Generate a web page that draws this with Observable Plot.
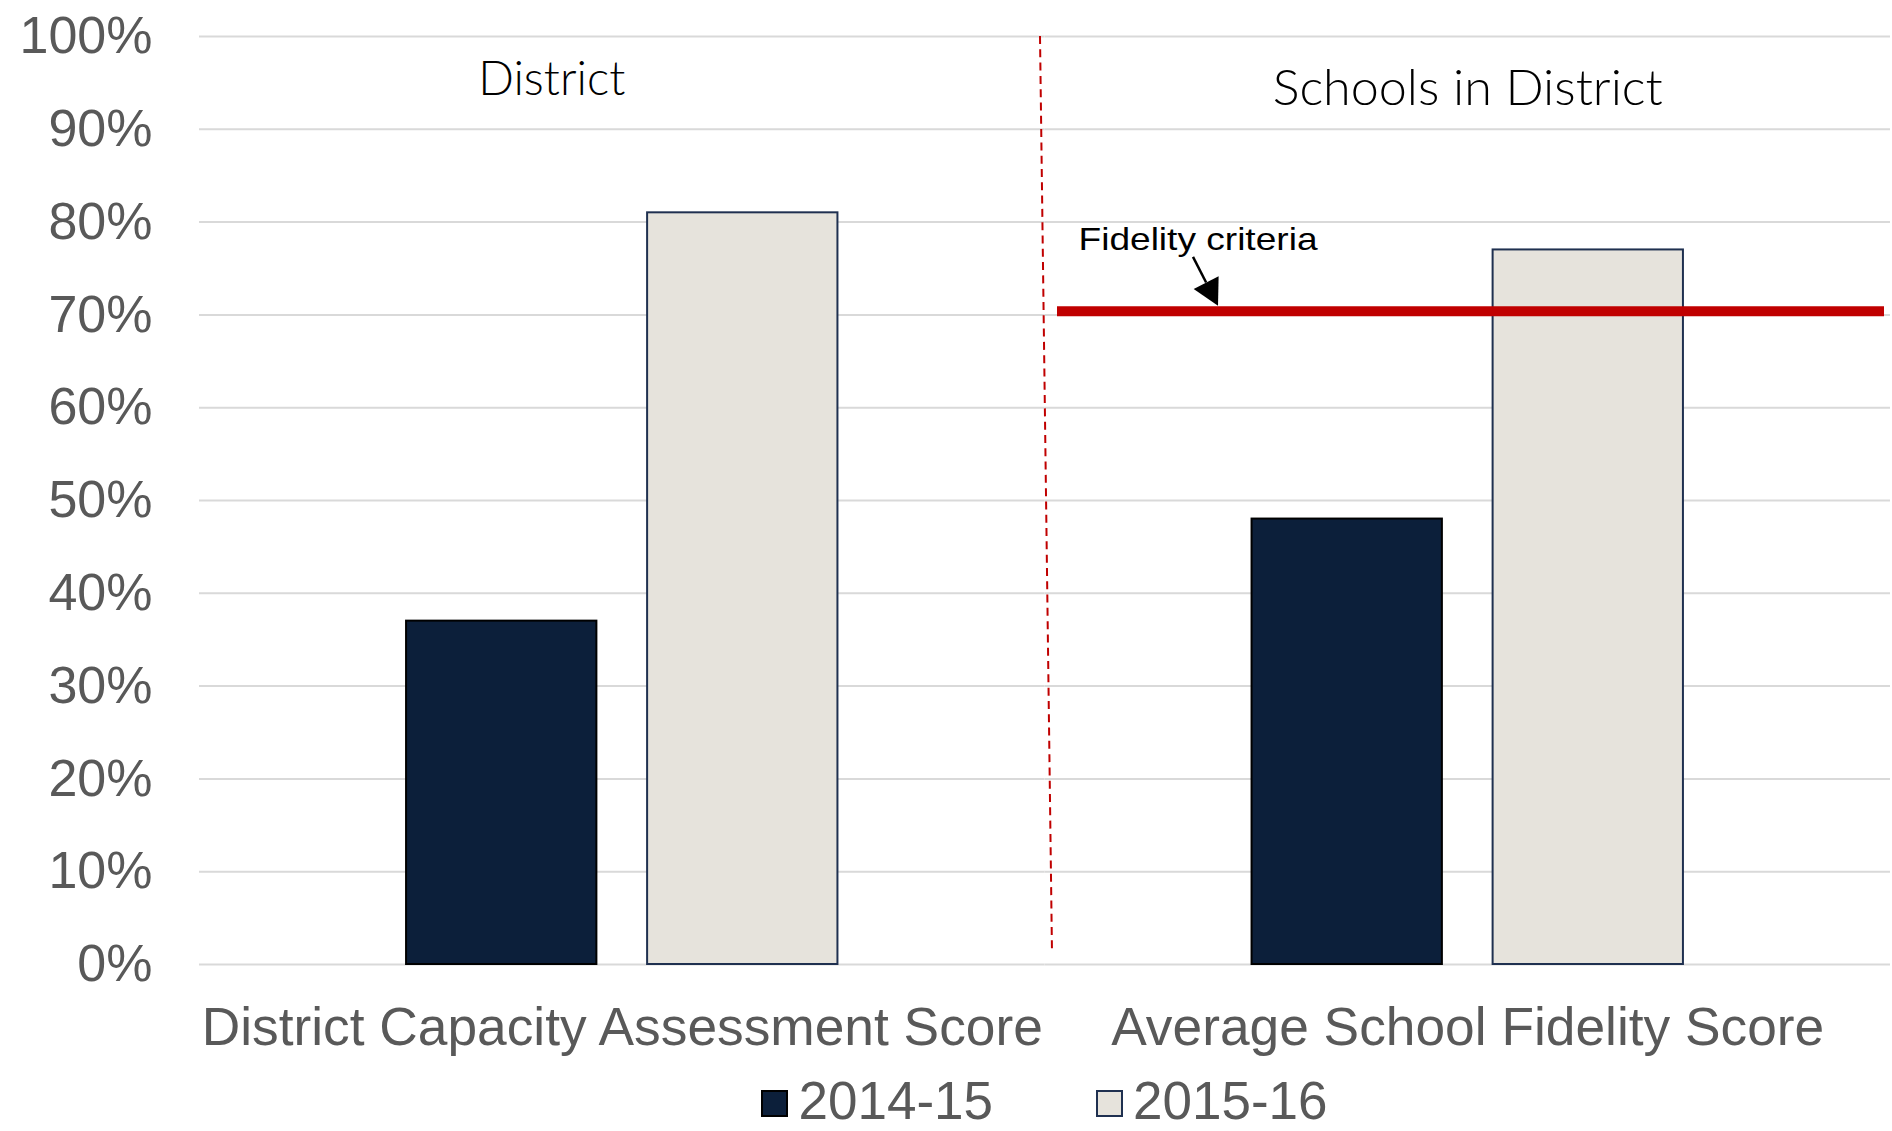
<!DOCTYPE html>
<html>
<head>
<meta charset="utf-8">
<script src="https://cdn.jsdelivr.net/npm/d3@7"></script>
<script src="https://cdn.jsdelivr.net/npm/@observablehq/plot@0.6"></script>
<style>
  body { margin: 0; background: #fff; }
  #chart { width: 1892px; }
  .legend {
    display: flex; justify-content: center; align-items: baseline;
    margin-left: 199px; width: 1691px; height: 61px; line-height: 61px;
    font-family: "Liberation Sans", Arial, sans-serif; font-size: 53px; color: #595959;
  }
  .legend .item { display: inline-flex; align-items: baseline; }
  .legend .item + .item { margin-left: 103px; }
  .legend .sw { display: inline-block; width: 23px; height: 23px; margin-right: 10px; border: 2px solid; position: relative; top: -2px; }
</style>
</head>
<body>
<div id="chart"></div>
<script>
// Categories, series and scores (share of maximum score)
const categories = ["District Capacity Assessment Score", "Average School Fidelity Score"];
const series = ["2014-15", "2015-16"];
const scores2014 = [0.37, 0.48];
const scores2015 = [0.81, 0.77];
const groupLabels = ["District", "Schools in District"];
const fidelityCriteria = 0.704;
const fidelityLabel = "Fidelity criteria";
const yTicks = [0, 0.1, 0.2, 0.3, 0.4, 0.5, 0.6, 0.7, 0.8, 0.9, 1];

// Series styling
const seriesFill = ["#0C1F3A", "#E6E3DC"];
const seriesStroke = ["#000000", "#1F3050"];
const fillOf = new Map(series.map((s, i) => [s, seriesFill[i]]));
const strokeOf = new Map(series.map((s, i) => [s, seriesStroke[i]]));

const rows = categories.flatMap((c, i) => [
  {category: c, series: series[0], value: scores2014[i]},
  {category: c, series: series[1], value: scores2015[i]}
]);

const sans = '"Liberation Sans", Arial, sans-serif';
const lato = 'Lato, "Open Sans", sans-serif';

const chart = Plot.plot({
  width: 1892,
  height: 1070,
  marginTop: 36,
  marginLeft: 199,
  marginRight: 2,
  marginBottom: 106,
  style: {fontFamily: sans, background: "#fff", overflow: "visible"},
  fx: {domain: categories, padding: 0, round: false},
  x: {domain: series, paddingInner: 0.2104, paddingOuter: 0.859, round: false, axis: null},
  y: {domain: [0, 1]},
  color: {type: "identity"},
  marks: [
    Plot.gridY(yTicks, {stroke: "#D9D9D9", strokeOpacity: 1, strokeWidth: 2}),
    Plot.axisY(yTicks, {
      tickSize: 0, tickPadding: 47, tickFormat: d3.format(".0%"),
      fontSize: 52, color: "#595959", label: null
    }),
    Plot.axisFx({anchor: "bottom", tickSize: 0, tickPadding: 43, fontSize: 53.3, color: "#595959", label: null}),
    Plot.barY(rows, {
      fx: "category", x: "series", y: "value",
      fill: d => fillOf.get(d.series), stroke: d => strokeOf.get(d.series), strokeWidth: 2
    }),
    Plot.ruleY([fidelityCriteria], {
      fx: [categories[1]], stroke: "#C00000", strokeWidth: 10, insetLeft: 12.5, insetRight: 6
    }),
    // Section headings above each group
    Plot.text([groupLabels[0]], {
      fx: [categories[0]], y: [0.9375], text: d => d, dx: -70.5,
      lineAnchor: "bottom", fontSize: 46.5, fontWeight: 300, fontFamily: lato, fill: "#000"
    }),
    Plot.text([groupLabels[1]], {
      fx: [categories[1]], y: [0.9267], text: d => d,
      lineAnchor: "bottom", fontSize: 50, fontWeight: 300, fontFamily: lato, fill: "#000"
    }),
    // Threshold annotation
    Plot.text([fidelityLabel], {
      fx: [categories[1]], y: [0.7694], text: d => d, frameAnchor: "left", dx: 33.5,
      textAnchor: "start", lineAnchor: "bottom", fontSize: 32, fontFamily: sans, fill: "#000"
    })
  ]
});

document.getElementById("chart").appendChild(chart);

// Stretch the heading and annotation texts to their set widths
const svg = d3.select(chart);
const widths = new Map([[groupLabels[0], 147], [groupLabels[1], 390], [fidelityLabel, 239]]);
svg.selectAll("text").each(function () {
  const w = widths.get(this.textContent);
  if (w) d3.select(this).attr("textLength", w).attr("lengthAdjust", "spacingAndGlyphs");
});

// Section divider and arrow to the criteria line, placed with the chart's scales
const fx = chart.scale("fx");
const y = chart.scale("y");
const yPos = v => y.apply(v);
const fxStep = fx.step ?? (1892 - 199 - 2) / categories.length;
const boundary = fx.apply ? fx.apply(categories[1]) : 199 + fxStep;

svg.append("line")
  .attr("x1", boundary - 4.5).attr("y1", yPos(1))
  .attr("x2", boundary + 7.5).attr("y2", yPos(0.012))
  .attr("stroke", "#C00000").attr("stroke-width", 2)
  .attr("stroke-dasharray", "8,5.3");

const tail = [boundary + 148.5, yPos(0.762)];
const tip = [boundary + 173.5, yPos(fidelityCriteria) - 5];
const dxA = tip[0] - tail[0], dyA = tip[1] - tail[1];
const len = Math.hypot(dxA, dyA);
const ux = dxA / len, uy = dyA / len;
const headLen = 26, headHalf = 14;
const base = [tip[0] - headLen * ux, tip[1] - headLen * uy];
svg.append("line")
  .attr("x1", tail[0]).attr("y1", tail[1])
  .attr("x2", base[0]).attr("y2", base[1])
  .attr("stroke", "#000").attr("stroke-width", 2.5);
svg.append("path")
  .attr("d", `M${tip[0]},${tip[1]}L${base[0] - headHalf * uy},${base[1] + headHalf * ux}L${base[0] + headHalf * uy},${base[1] - headHalf * ux}Z`)
  .attr("fill", "#000");

// Legend
const legend = d3.select("body").append("div").attr("class", "legend");
series.forEach((s, i) => {
  const item = legend.append("span").attr("class", "item");
  item.append("span").attr("class", "sw")
    .style("background", seriesFill[i]).style("border-color", seriesStroke[i]);
  item.append("span").text(s);
});
</script>
</body>
</html>
